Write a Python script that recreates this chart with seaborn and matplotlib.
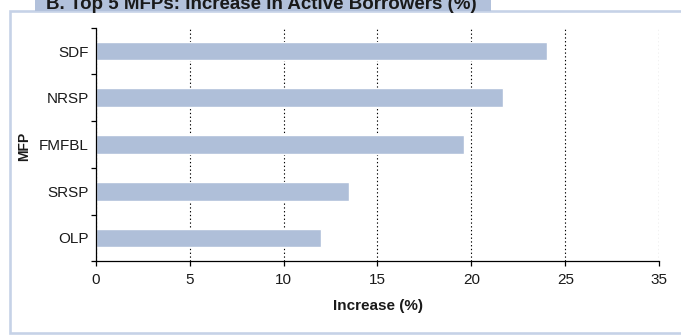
import matplotlib
matplotlib.use("Agg")
import matplotlib.pyplot as plt
from matplotlib.patches import Rectangle
import seaborn as sns
import pandas as pd

# ---- data ----
categories = ["SDF", "NRSP", "FMFBL", "SRSP", "OLP"]
increase = [24.0, 21.7, 19.6, 13.5, 12.0]
x_tick_values = [0, 5, 10, 15, 20, 25, 30]
x_tick_labels = ["0", "5", "10", "15", "20", "25", "35"]
title = "B. Top 5 MFPs: Increase in Active Borrowers (%)"
x_label = "Increase (%)"
y_label = "MFP"

sns.set_theme(style="white")
plt.rcParams["font.family"] = ["Liberation Sans", "DejaVu Sans"]

W, H = 681, 335
fig = plt.figure(figsize=(W / 100, H / 100), dpi=100)
fig.patch.set_facecolor("white")

# frame and title tab
frame = Rectangle((10 / W, 2 / H), 700 / W, (333 - 11) / H, transform=fig.transFigure,
                  facecolor="white", edgecolor="#c6d2e7", linewidth=1.9, zorder=0)
fig.add_artist(frame)
tab = Rectangle((35 / W, (H - 11) / H), (491 - 35) / W, 20 / H, transform=fig.transFigure,
                facecolor="#b2c1db", edgecolor="none", zorder=1)
fig.add_artist(tab)
fig.text(46 / W, (H - 9) / H, title, ha="left", va="baseline", fontsize=13.5,
         fontweight="bold", color="#1a1a1a", zorder=2)

left, right = 95.7, 659.3
top, bottom = 27.7, 261.3
ax = fig.add_axes([left / W, (H - bottom) / H, (right - left) / W, (bottom - top) / H])
ax.set_facecolor("none")

df = pd.DataFrame({"MFP": categories, "Increase": increase})
sns.barplot(data=df, x="Increase", y="MFP", color="#afbfd9", saturation=1,
            width=0.4, ax=ax, zorder=2)

ax.set_xlim(0, 30)
ax.set_ylim(len(categories) - 0.5, -0.5)
ax.set_xticks(x_tick_values)
ax.set_xticklabels(x_tick_labels)
ax.set_yticks(range(len(categories)))
ax.set_yticklabels(categories)
ax.set_yticks([i - 0.5 for i in range(len(categories) + 1)], minor=True)

ax.tick_params(axis="x", which="major", direction="out", length=3.6, width=0.9,
               color="black", labelsize=11, labelcolor="#1a1a1a", pad=5, bottom=True)
ax.tick_params(axis="y", which="major", length=0, labelsize=11, labelcolor="#1a1a1a", pad=5)
ax.tick_params(axis="y", which="minor", direction="out", length=3.6, width=0.9,
               color="black", left=True)

for s in ["top", "right"]:
    ax.spines[s].set_visible(False)
for s in ["left", "bottom"]:
    ax.spines[s].set_color("black")
    ax.spines[s].set_linewidth(0.9)

ax.xaxis.grid(True, which="major", linestyle=(0, (1.2, 2.2)), color="black", linewidth=0.8)
ax.yaxis.grid(False)
ax.set_axisbelow(True)

ax.set_xlabel(x_label, fontsize=11, fontweight="bold", color="#1a1a1a")
ax.xaxis.set_label_coords(0.501, -0.191)
ax.xaxis.label.set_va("center")
ax.set_ylabel(y_label, fontsize=10, fontweight="bold", color="#1a1a1a")
ax.yaxis.set_label_coords(-0.127, 0.49)
ax.yaxis.label.set_va("center")

fig.savefig("out.png", dpi=100, facecolor="white")
